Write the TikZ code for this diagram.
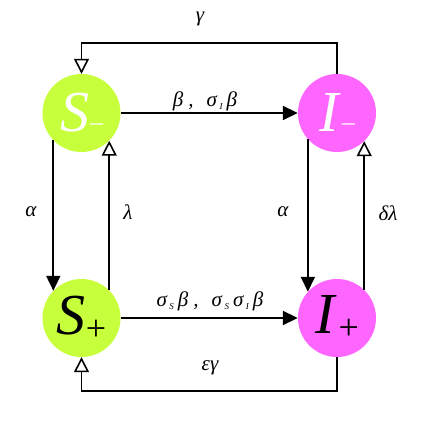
\documentclass[tikz,border=0pt]{standalone}
\usepackage{fontspec}
\setmainfont{Liberation Serif}
\usetikzlibrary{arrows.meta}
\definecolor{limeg}{HTML}{C8FF3C}
\definecolor{pinkm}{HTML}{FF66FF}
\newcommand{\gsub}[1]{\hspace{2.5pt}\raisebox{-3pt}{\fontsize{9}{9}\selectfont\textit{#1}}\hspace{4pt}}
\newcommand{\cm}{\hspace{5pt},\hspace{13pt}}
\tikzset{
  state/.style={circle, minimum size=78pt, inner sep=0pt, draw=none},
  big/.style={font=\fontsize{58}{58}\selectfont},
  lbl/.style={font=\fontsize{21}{21}\selectfont\itshape, inner sep=0pt},
  flow/.style={line width=1.8pt, -{Triangle[length=15pt,width=14pt]}},
  back/.style={line width=1.8pt, -{Triangle[open,length=15pt,width=15pt,line width=1.6pt]}},
}
\begin{document}
\begin{tikzpicture}[x=1pt,y=1pt]
\useasboundingbox (0,0) rectangle (436,447);
\node[state, fill=limeg, big, text=white] (Sm) at (81.5,334) {\textit{S}\raisebox{1pt}{\fontsize{26}{26}\selectfont\hspace{1pt}–}};
\node[state, fill=pinkm, big, text=white] (Im) at (337,334) {\textit{I}\raisebox{1pt}{\fontsize{26}{26}\selectfont\hspace{1pt}–}};
\node[state, fill=limeg, big] (Sp) at (81.5,129) {\textit{S}\raisebox{-6pt}{\fontsize{36}{36}\selectfont+}};
\node[state, fill=pinkm, big] (Ip) at (337,129) {\textit{I}\raisebox{-6pt}{\fontsize{36}{36}\selectfont\hspace{2pt}+}};

\draw[flow] (Sm) -- (Im);
\draw[flow] (Sp) -- (Ip);
\draw[flow] (Sm.224) -- (Sp.136);
\draw[back] (Sp.45) -- (Sm.315);
\draw[flow] (Im.222) -- (Ip.138);
\draw[back] (Ip.46) -- (Im.314);
\draw[back] (Im.north) -- ++(0,31) -| (Sm.north);
\draw[back] (Ip.south) -- ++(0,-34) -| (Sp.south);

\node[lbl] (g) at (200,428) {γ};
\node[lbl] (b1) at (205,346) {β\cm σ\gsub{I}β};
\node[lbl] (a1) at (31,235) {α};
\node[lbl] (l1) at (128,235) {λ};
\node[lbl] (a2) at (283,235) {α};
\node[lbl] (dl) at (388,234) {δλ};
\node[lbl] (b2) at (210,146) {σ\gsub{S}β\cm σ\gsub{S}σ\gsub{I}β};
\node[lbl] (eg) at (210,79) {εγ};
\end{tikzpicture}
\end{document}
